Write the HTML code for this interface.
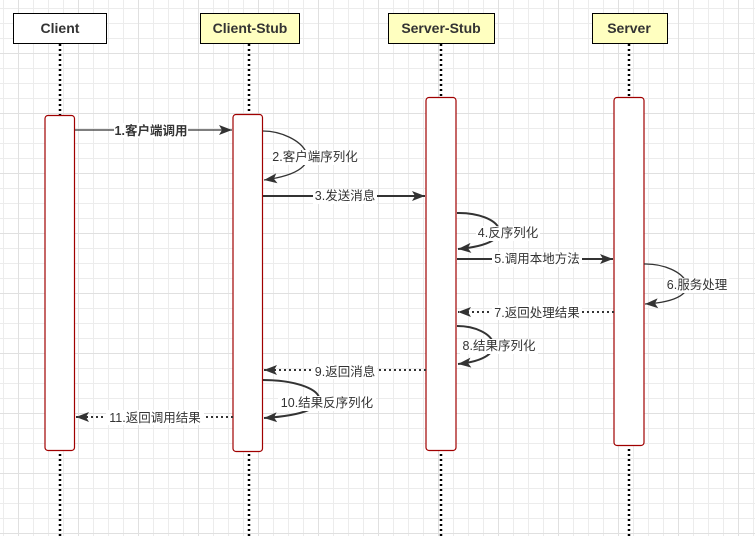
<!DOCTYPE html>
<html><head><meta charset="utf-8"><style>
html,body{margin:0;padding:0;background:#fff}
svg{display:block}
text{font-family:"Liberation Sans","Noto Sans CJK SC",sans-serif;font-size:12.5px;fill:#333}
.h{font-weight:bold;font-size:14px;fill:#333}
</style></head><body>
<svg width="755" height="536" viewBox="0 0 755 536" xmlns="http://www.w3.org/2000/svg">
<defs>
<pattern id="g" width="15" height="15" patternUnits="userSpaceOnUse" x="3" y="8">
<path d="M0 0.5H15M0.5 0V15" stroke="#ececec" stroke-width="1" fill="none"/>
</pattern>
<pattern id="G" width="60" height="60" patternUnits="userSpaceOnUse" x="18" y="53">
<path d="M0 0.5H60M0.5 0V60" stroke="#e0e0e0" stroke-width="1" fill="none"/>
</pattern>
<marker id="a" markerWidth="13" markerHeight="10" refX="13" refY="5" orient="auto" markerUnits="userSpaceOnUse">
<path d="M0 0L13 5L0 10L3 5Z" fill="#333"/>
</marker>
</defs>
<rect width="755" height="536" fill="url(#g)"/>
<rect width="755" height="536" fill="url(#G)"/>
<g stroke="#000" stroke-width="2.5" stroke-dasharray="2,3">
<line x1="60" y1="44" x2="60" y2="536"/>
<line x1="249" y1="44" x2="249" y2="536"/>
<line x1="441" y1="44" x2="441" y2="536"/>
<line x1="629" y1="44" x2="629" y2="536"/>
</g>
<rect x="13.5" y="13.5" width="93" height="30" fill="#fff" stroke="#000"/>
<rect x="200.5" y="13.5" width="99" height="30" fill="#ffffc0" stroke="#000"/>
<rect x="388.5" y="13.5" width="106" height="30" fill="#ffffc0" stroke="#000"/>
<rect x="592.5" y="13.5" width="75" height="30" fill="#ffffc0" stroke="#000"/>
<text class="h" x="60" y="33" text-anchor="middle">Client</text>
<text class="h" x="250" y="33" text-anchor="middle">Client-Stub</text>
<text class="h" x="441" y="33" text-anchor="middle">Server-Stub</text>
<text class="h" x="629" y="33" text-anchor="middle">Server</text>
<g fill="#fff" stroke="#a00000" stroke-width="1.2">
<rect x="45" y="115.5" width="29.5" height="335" rx="3"/>
<rect x="233" y="114.5" width="29.5" height="337" rx="3"/>
<rect x="426" y="97.5" width="30" height="353" rx="3"/>
<rect x="614" y="97.5" width="30" height="348" rx="3"/>
</g>
<g stroke="#333" fill="none" stroke-width="2" marker-end="url(#a)">
<line x1="75" y1="130" x2="232" y2="130" stroke-width="1.3"/>
<path d="M263 131C300 131 340 170 264 180" stroke-width="1.3"/>
<line x1="263" y1="196" x2="425" y2="196"/>
<path d="M457 213C500 212 525 243 458 249"/>
<line x1="457" y1="259" x2="613" y2="259"/>
<path d="M644 264C685 263 715 300 645 304" stroke-width="1.3"/>
<line x1="614" y1="312" x2="458" y2="312" stroke-dasharray="2,3"/>
<path d="M457 326C495 326 515 358 458 364"/>
<line x1="426" y1="370" x2="264" y2="370" stroke-dasharray="2,3"/>
<path d="M263 380C325 380 350 413 264 418"/>
<line x1="233" y1="417" x2="76" y2="417" stroke-dasharray="2,3"/>
</g>
<g>
<rect x="114" y="123" width="74" height="15" fill="#fff"/>
<text x="151" y="135" text-anchor="middle" style="font-weight:bold">1.客户端调用</text>
<rect x="273" y="150" width="84" height="15" fill="#fff"/>
<text x="315" y="161" text-anchor="middle">2.客户端序列化</text>
<rect x="313" y="189" width="64" height="15" fill="#fff"/>
<text x="345" y="200" text-anchor="middle">3.发送消息</text>
<rect x="476" y="226" width="64" height="15" fill="#fff"/>
<text x="508" y="237" text-anchor="middle">4.反序列化</text>
<rect x="492" y="252" width="90" height="15" fill="#fff"/>
<text x="537" y="263" text-anchor="middle">5.调用本地方法</text>
<rect x="665" y="278" width="64" height="15" fill="#fff"/>
<text x="697" y="289" text-anchor="middle">6.服务处理</text>
<rect x="492" y="305" width="90" height="15" fill="#fff"/>
<text x="537" y="317" text-anchor="middle">7.返回处理结果</text>
<rect x="460" y="339" width="78" height="15" fill="#fff"/>
<text x="499" y="350" text-anchor="middle">8.结果序列化</text>
<rect x="313" y="364" width="64" height="15" fill="#fff"/>
<text x="345" y="376" text-anchor="middle">9.返回消息</text>
<rect x="278" y="396" width="98" height="15" fill="#fff"/>
<text x="327" y="407" text-anchor="middle">10.结果反序列化</text>
<rect x="106" y="410" width="98" height="15" fill="#fff"/>
<text x="155" y="422" text-anchor="middle">11.返回调用结果</text>
</g>
</svg>
</body></html>
